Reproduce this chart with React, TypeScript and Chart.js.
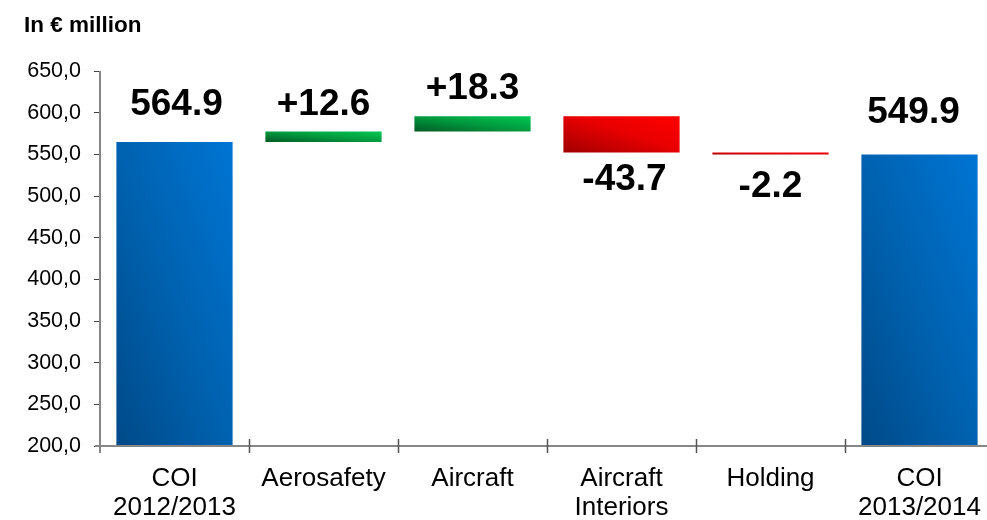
import { useEffect, useRef } from 'react';
import { Chart, registerables } from 'chart.js';

Chart.register(...registerables);

// Bridge from COI 2012/2013 to COI 2013/2014, in € million
const categories: (string | string[])[] = [
  ['COI', '2012/2013'],
  'Aerosafety',
  'Aircraft',
  ['Aircraft', 'Interiors'],
  'Holding',
  ['COI', '2013/2014'],
];
const openingTotal = 564.9;
const segmentChanges = [12.6, 18.3, -43.7, -2.2];
const closingTotal = 549.9;

// Value axis
const axisMin = 200;
const axisMax = 650;
const axisStep = 50;

// Floating ranges for each bar: totals rise from the axis floor,
// segment changes float between the running totals.
const ranges: [number, number][] = [[axisMin, openingTotal]];
let running = openingTotal;
for (const change of segmentChanges) {
  const next = Math.round((running + change) * 10) / 10;
  ranges.push([running, next]);
  running = next;
}
ranges.push([axisMin, closingTotal]);

const valueLabels = [
  openingTotal.toFixed(1),
  ...segmentChanges.map((c) => (c > 0 ? '+' : '-') + Math.abs(c).toFixed(1)),
  closingTotal.toFixed(1),
];

const kinds = ['total', ...segmentChanges.map((c) => (c >= 0 ? 'up' : 'down')), 'total'];

const palettes: Record<string, [number, string][]> = {
  total: [[0, '#004a88'], [0.5, '#0062b0'], [1, '#0075d4']],
  up: [[0, '#005a25'], [0.5, '#009a3e'], [1, '#00c853']],
  down: [[0, '#a00000'], [0.55, '#ea0000'], [1, '#ff0000']],
};

// Label placement (px): distance from the bar edge to the label's cap middle
const labelGap = [40, 30, 30, 24, 29, 45];
const labelShiftX = [2, 0, 0, 3, 0, -6];

const FONT = "'Liberation Sans', Arial, sans-serif";

// Diagonal gradient scaled to the shape (bottom-left -> top-right)
function shapeGradient(
  ctx: CanvasRenderingContext2D,
  left: number,
  top: number,
  right: number,
  bottom: number,
  stops: [number, string][]
) {
  const w = Math.max(right - left, 1);
  const h = Math.max(bottom - top, 1);
  const k = 2 / (1 / (w * w) + 1 / (h * h));
  const g = ctx.createLinearGradient(left, bottom, left + k / w, bottom - k / h);
  stops.forEach(([o, c]) => g.addColorStop(o, c));
  return g;
}

const waterfallPlugin = {
  id: 'waterfallDecor',
  beforeDatasetsDraw(chart: any) {
    const ctx = chart.ctx as CanvasRenderingContext2D;
    const meta = chart.getDatasetMeta(0);
    meta.data.forEach((el: any, i: number) => {
      const { x, y, base, width } = el.getProps(['x', 'y', 'base', 'width'], true);
      const top = Math.min(y, base);
      const bottom = Math.max(y, base);
      const fill = shapeGradient(ctx, x - width / 2, top, x + width / 2, bottom, palettes[kinds[i]]);
      el.options = { ...el.options, backgroundColor: fill };
    });
  },
  afterDatasetsDraw(chart: any) {
    const ctx = chart.ctx as CanvasRenderingContext2D;
    const { chartArea } = chart;
    const xs = chart.scales.x;
    ctx.save();

    // Axis lines
    ctx.strokeStyle = '#868686';
    ctx.lineWidth = 2;
    ctx.beginPath();
    ctx.moveTo(chartArea.left, chartArea.top);
    ctx.lineTo(chartArea.left, chartArea.bottom + 7);
    ctx.moveTo(chartArea.left - 5, chartArea.bottom);
    ctx.lineTo(chartArea.right + 10, chartArea.bottom);
    ctx.stroke();

    // Category separators crossing the category axis
    const half = (xs.getPixelForValue(1) - xs.getPixelForValue(0)) / 2;
    ctx.strokeStyle = '#555555';
    ctx.lineWidth = 1.5;
    ctx.beginPath();
    for (let i = 0; i < categories.length - 1; i++) {
      const bx = Math.round(xs.getPixelForValue(i) + half) + 0.5;
      ctx.moveTo(bx, chartArea.bottom - 7);
      ctx.lineTo(bx, chartArea.bottom + 7);
    }
    ctx.stroke();

    // Value labels
    const size = 37;
    ctx.font = `bold ${size}px ${FONT}`;
    ctx.fillStyle = '#000000';
    ctx.textAlign = 'center';
    ctx.textBaseline = 'alphabetic';
    const meta = chart.getDatasetMeta(0);
    meta.data.forEach((el: any, i: number) => {
      const { x, y, base } = el.getProps(['x', 'y', 'base'], true);
      const top = Math.min(y, base);
      const bottom = Math.max(y, base);
      const capMid = kinds[i] === 'down' ? bottom + labelGap[i] : top - labelGap[i];
      ctx.fillText(valueLabels[i], x + labelShiftX[i], capMid + 0.358 * size);
    });

    // Unit caption
    ctx.font = `bold 22.5px ${FONT}`;
    ctx.textAlign = 'left';
    ctx.fillText('In € million', 24, 32);
    ctx.restore();
  },
};

export default function App() {
  const canvasRef = useRef<HTMLCanvasElement | null>(null);

  useEffect(() => {
    if (!canvasRef.current) return;
    const chart = new Chart(canvasRef.current, {
      type: 'bar',
      data: {
        labels: categories,
        datasets: [
          {
            data: ranges as any,
            // scriptable so that every bar keeps its own options object
            backgroundColor: (c: any) => palettes[kinds[c.dataIndex] ?? 'total'][1][1],
            borderWidth: 0,
            barPercentage: 0.78,
            categoryPercentage: 1,
          },
        ],
      },
      options: {
        animation: false,
        responsive: true,
        maintainAspectRatio: false,
        layout: { padding: { top: 71, right: 6, left: 0, bottom: 0 } },
        plugins: {
          legend: { display: false },
          tooltip: { enabled: false },
          title: { display: false },
        },
        scales: {
          x: {
            offset: true,
            grid: { display: false, drawTicks: false },
            border: { display: false },
            ticks: {
              color: '#000000',
              font: { family: FONT, size: 26, lineHeight: 1.12 },
              padding: 18,
              maxRotation: 0,
              autoSkip: false,
            },
            afterFit(scale: any) {
              scale.height = 74;
            },
          },
          y: {
            min: axisMin,
            max: axisMax,
            border: { display: false },
            grid: {
              drawOnChartArea: false,
              drawTicks: true,
              tickLength: 6,
              color: '#444444',
              lineWidth: 1,
            },
            ticks: {
              stepSize: axisStep,
              color: '#000000',
              font: { family: FONT, size: 21.5 },
              padding: 13,
              callback: (v: any) => Number(v).toFixed(1).replace('.', ','),
            },
            afterFit(scale: any) {
              scale.width = 100;
            },
          },
        },
      },
      plugins: [waterfallPlugin],
    });
    return () => chart.destroy();
  }, []);

  return (
    <div
      style={{
        position: 'fixed',
        left: 0,
        top: 0,
        width: 987,
        height: 520,
        overflow: 'hidden',
        background: '#ffffff',
      }}
    >
      <div style={{ position: 'relative', width: 1000, height: 520 }}>
        <canvas ref={canvasRef} />
      </div>
    </div>
  );
}
